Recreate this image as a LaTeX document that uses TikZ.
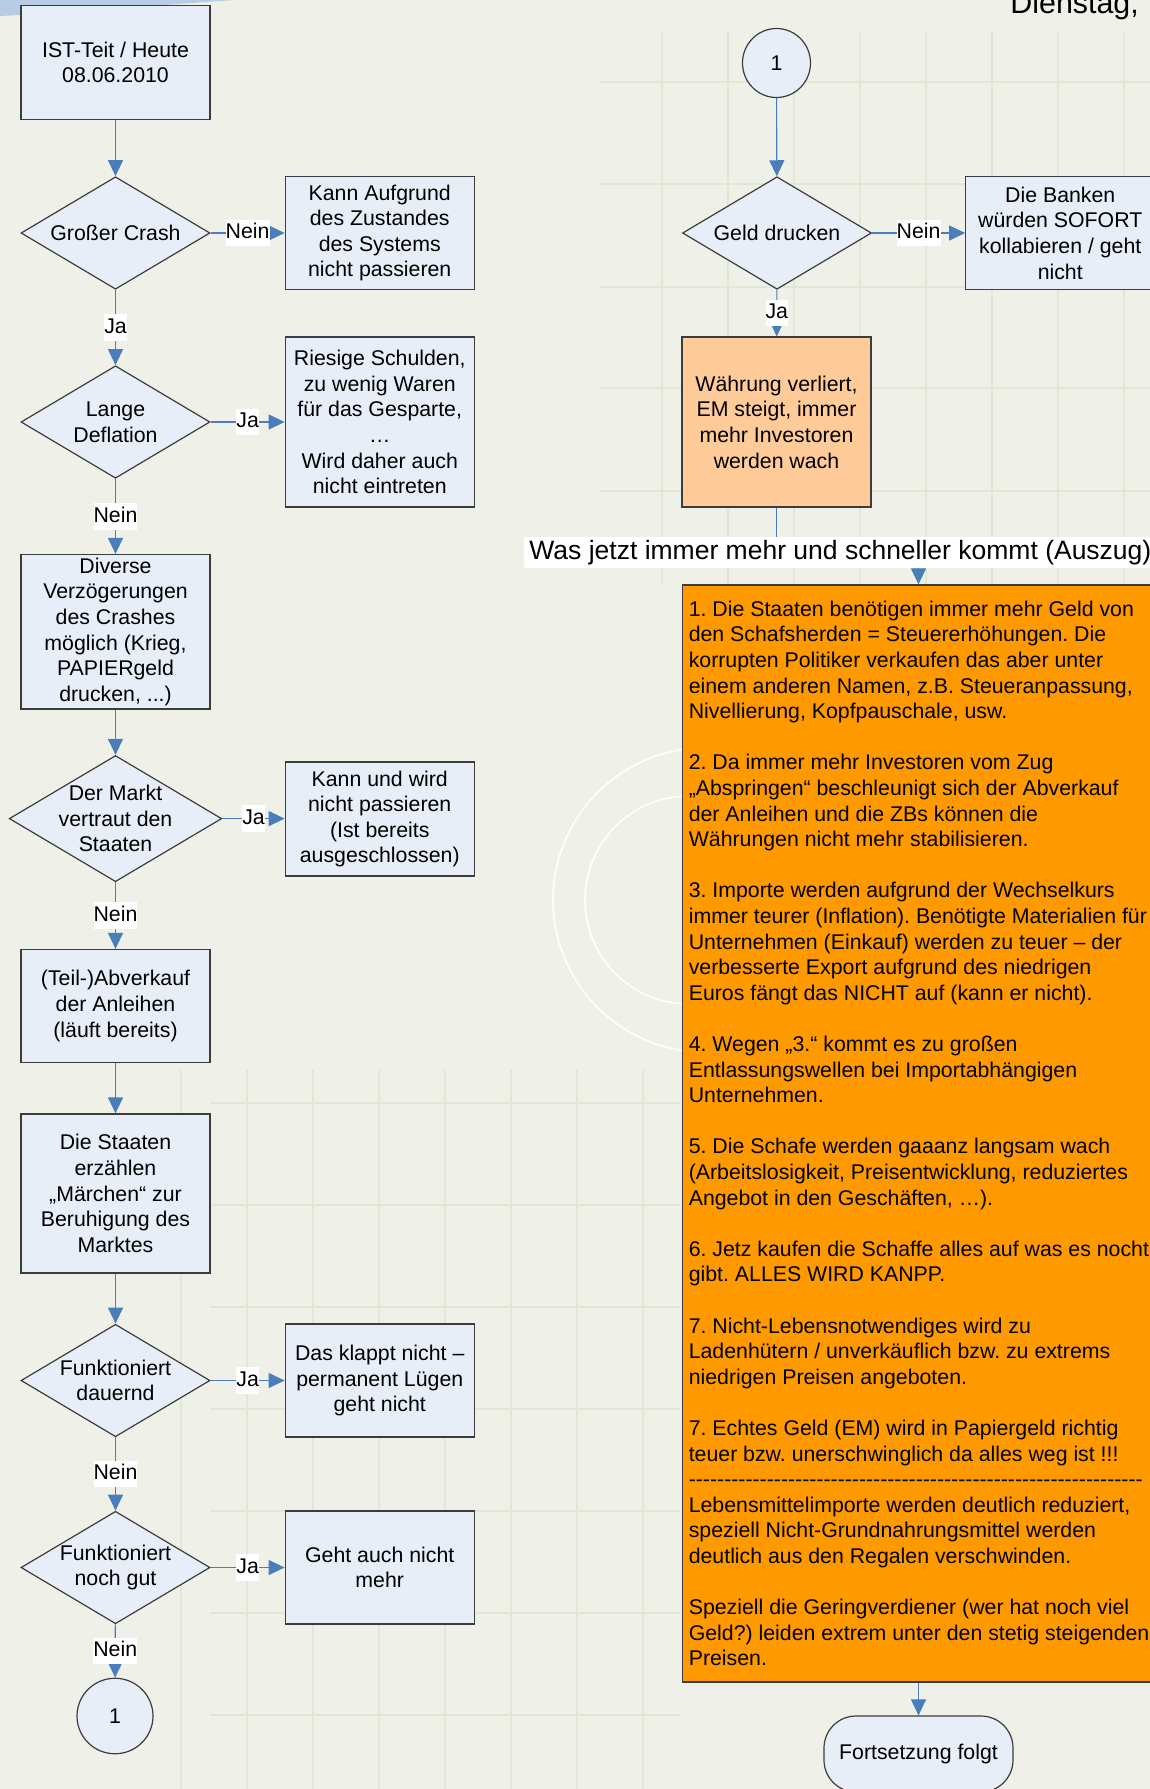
\documentclass[tikz,border=0pt]{standalone}
\usepackage{fontspec}
\setmainfont{Liberation Sans}
\frenchspacing
\usetikzlibrary{arrows.meta}
\usetikzlibrary{shapes.geometric}
\definecolor{paper}{RGB}{239,241,233}
\definecolor{gridgreen}{RGB}{223,232,211}
\definecolor{topblue}{RGB}{184,204,230}
\definecolor{boxfill}{RGB}{232,238,248}
\definecolor{boxline}{RGB}{60,60,60}
\definecolor{flowblue}{RGB}{74,126,187}
\definecolor{peach}{RGB}{255,204,153}
\definecolor{deeporange}{RGB}{255,153,0}
\newcommand{\bodyfont}{\fontsize{10.65pt}{12.8pt}\selectfont}
\newcommand{\headfont}{\fontsize{13.25pt}{16pt}\selectfont}
\newcommand{\dayfont}{\fontsize{15.2pt}{18pt}\selectfont}
\newcommand{\dashrow}{\foreach \k in {1,...,64}{-\kern0pt}}
\tikzset {
  % process steps
  stepbox/.style = {draw=boxline, line width=0.6pt, fill=boxfill, rectangle,
    minimum width=94.5pt, minimum height=56.5pt, align=center, font=\bodyfont},
  % decisions, text goes in a node of its own on top
  decision/.style = {draw=boxline, line width=0.6pt, fill=boxfill, diamond,
    minimum width=94.5pt, minimum height=56.25pt, inner sep=0pt},
  dtext/.style = {align=center, font=\bodyfont, inner sep=0pt},
  % page connectors and end
  connector/.style = {draw=boxline, line width=0.6pt, fill=boxfill, ellipse,
    inner sep=0pt, font=\bodyfont},
  terminal/.style = {draw=boxline, line width=0.6pt, fill=boxfill, rectangle,
    rounded corners=16pt, minimum width=94.5pt, minimum height=38pt, font=\bodyfont},
  % arrows and their yes/no labels
  flow/.style = {draw=flowblue, line width=0.55pt, -{Triangle[length=8pt, width=7.5pt]}},
  answer/.style = {fill=white, font=\bodyfont, inner xsep=0pt, inner ysep=1.5pt,
    text height=7.9pt, text depth=2.25pt},
  headlabel/.style = {fill=white, font=\headfont, inner xsep=2.5pt, inner ysep=1pt,
    text height=10.6pt, text depth=2.9pt},
  % background
  grid/.style = {draw=gridgreen, line width=0.75pt},
}
\begin{document}
\begin{tikzpicture}[x=0.5pt, y=-0.5pt]
        \useasboundingbox (0,0) rectangle (1150,1789);
        \clip (0,0) rectangle (1150,1789);

        % background
        \fill[paper] (0,0) rectangle (1150,1789);
        \fill[topblue] (0,0) -- (0,16) .. controls (80,12) and (160,5) .. (235,0) -- cycle;
        \foreach \gx in {662,728,...,1124} \draw[grid] (\gx,32) -- (\gx,585);
        \foreach \gy in {82,184,287,388,491} \draw[grid] (600,\gy) -- (1150,\gy);
        \foreach \gx in {181,247,...,643} \draw[grid] (\gx,1070) -- (\gx,1789);
        \foreach \gy in {1103,1205,...,1715} \draw[grid] (210,\gy) -- (680,\gy);
        \draw[white, line width=0.8pt] (705,900) circle[radius=76pt];
        \draw[white, line width=0.8pt] (689,900) circle[radius=52pt];

        \node[anchor=base west, font=\dayfont, inner sep=0pt] (day) at (1010,13) {Dienstag,};

        % left column
        \node[stepbox, minimum height=56.75pt] (ist) at (115.5,62.5) {IST-Teit / Heute\\08.06.2010};

        \node[decision] (crash) at (115.5,233) {};
        \node[dtext] (crashtxt) at (crash) {Großer Crash};
        \node[stepbox] (kann1) at (379.75,233) {Kann Aufgrund\\des Zustandes\\des Systems\\nicht passieren};

        \node[decision] (deflation) at (115.5,422) {};
        \node[dtext] (deflationtxt) at (deflation) {Lange\\Deflation};
        \node[stepbox, minimum height=85pt] (schulden) at (379.75,422) {Riesige Schulden,\\zu wenig Waren\\für das Gesparte,\\…\\Wird daher auch\\nicht eintreten};

        \node[stepbox, minimum height=77.25pt, inner ysep=0pt] (diverse) at (115.5,631.75) {Diverse\\Verzögerungen\\des Crashes\\möglich (Krieg,\\PAPIERgeld\\drucken, ...)};

        \node[decision, minimum width=106.25pt, minimum height=63.1pt] (markt) at (115.5,818.6) {};
        \node[dtext] (markttxt) at (markt) {Der Markt\\vertraut den\\Staaten};
        \node[stepbox, minimum height=57pt] (kann2) at (379.75,819) {Kann und wird\\nicht passieren\\(Ist bereits\\ausgeschlossen)};

        \node[stepbox] (teil) at (115.5,1006) {(Teil-)Abverkauf\\der Anleihen\\(läuft bereits)};

        \node[stepbox, minimum height=79.5pt] (staaten) at (115.5,1193.5) {Die Staaten\\erzählen\\„Märchen“ zur\\Beruhigung des\\Marktes};

        \node[decision] (dauernd) at (115.5,1380.5) {};
        \node[dtext] (dauerndtxt) at (dauernd) {Funktioniert\\dauernd};
        \node[stepbox] (klappt) at (379.75,1380.5) {Das klappt nicht –\\permanent Lügen\\geht nicht};

        \node[decision] (gut) at (115.5,1567.5) {};
        \node[dtext] (guttxt) at (gut) {Funktioniert\\noch gut};
        \node[stepbox] (mehr) at (379.75,1567.5) {Geht auch nicht\\mehr};

        \node[connector, minimum width=38pt, minimum height=37.75pt] (cona) at (115,1716) {1};

        % right column
        \node[connector, minimum width=34pt, minimum height=34.5pt] (conb) at (776.5,63) {1};

        \node[decision] (geld) at (777,233) {};
        \node[dtext] (geldtxt) at (geld) {Geld drucken};
        \node[stepbox] (banken) at (1060.25,233) {Die Banken\\würden SOFORT\\kollabieren / geht\\nicht};

        \node[stepbox, fill=peach, minimum height=85pt] (waehrung) at (776.5,422) {Währung verliert,\\EM steigt, immer\\mehr Investoren\\werden wach};

        \node[stepbox, fill=deeporange, anchor=west, minimum width=236.5pt, minimum height=548.5pt,
              align=left, inner xsep=2pt] (liste) at (682,1133.5) {%
1. Die Staaten benötigen immer mehr Geld von\\
den Schafsherden = Steuererhöhungen. Die\\
korrupten Politiker verkaufen das aber unter\\
einem anderen Namen, z.B. Steueranpassung,\\
Nivellierung, Kopfpauschale, usw.\\[12.8pt]
2. Da immer mehr Investoren vom Zug\\
„Abspringen“ beschleunigt sich der Abverkauf\\
der Anleihen und die ZBs können die\\
Währungen nicht mehr stabilisieren.\\[12.8pt]
3. Importe werden aufgrund der Wechselkurs\\
immer teurer (Inflation). Benötigte Materialien für\\
Unternehmen (Einkauf) werden zu teuer – der\\
verbesserte Export aufgrund des niedrigen\\
Euros fängt das NICHT auf (kann er nicht).\\[12.8pt]
4. Wegen „3.“ kommt es zu großen\\
Entlassungswellen bei Importabhängigen\\
Unternehmen.\\[12.8pt]
5. Die Schafe werden gaaanz langsam wach\\
(Arbeitslosigkeit, Preisentwicklung, reduziertes\\
Angebot in den Geschäften, …).\\[12.8pt]
6. Jetz kaufen die Schaffe alles auf was es nocht\\
gibt. ALLES WIRD KANPP.\\[12.8pt]
7. Nicht-Lebensnotwendiges wird zu\\
Ladenhütern / unverkäuflich bzw. zu extrems\\
niedrigen Preisen angeboten.\\[12.8pt]
7. Echtes Geld (EM) wird in Papiergeld richtig\\
teuer bzw. unerschwinglich da alles weg ist !!!\\
\dashrow\\
Lebensmittelimporte werden deutlich reduziert,\\
speziell Nicht-Grundnahrungsmittel werden\\
deutlich aus den Regalen verschwinden.\\[12.8pt]
Speziell die Geringverdiener (wer hat noch viel\\
Geld?) leiden extrem unter den stetig steigenden\\
Preisen.};

        \node[terminal] (fort) at (918.5,1754) {Fortsetzung folgt};

        \coordinate (bendA) at (776.5,552);
        \coordinate (bendB) at (918.5,552);

        % left column arrows
        \draw[flow] (ist) -- (crash);
        \draw[flow] (crash) -- node[answer] {Nein} (kann1);
        \draw[flow] (crash) -- node[answer] {Ja} (deflation);
        \draw[flow] (deflation) -- node[answer] {Ja} (deflation -| schulden.west);
        \draw[flow] (deflation) -- node[answer] {Nein} (diverse);
        \draw[flow] (diverse) -- (markt);
        \draw[flow] (markt) -- node[answer] {Ja} (markt -| kann2.west);
        \draw[flow] (markt) -- node[answer] {Nein} (teil);
        \draw[flow] (teil) -- (staaten);
        \draw[flow] (staaten) -- (dauernd);
        \draw[flow] (dauernd) -- node[answer] {Ja} (klappt);
        \draw[flow] (dauernd) -- node[answer] {Nein} (gut);
        \draw[flow] (gut) -- node[answer] {Ja} (mehr);
        \draw[flow] (gut) -- node[answer] {Nein} (cona);

        % right column arrows
        \draw[flow] (conb) -- (geld);
        \draw[flow] (geld) -- node[answer] {Nein} (banken);
        \draw[flow] (geld) -- node[answer] {Ja} (waehrung);
        \draw[flow] (waehrung.south) -- (bendA) -- node[headlabel, pos=0.45] {Was jetzt immer mehr und schneller kommt (Auszug)} (bendB) -- (bendB |- liste.north);
        \draw[flow] (fort.north |- liste.south) -- (fort);

\end{tikzpicture}
\end{document}
